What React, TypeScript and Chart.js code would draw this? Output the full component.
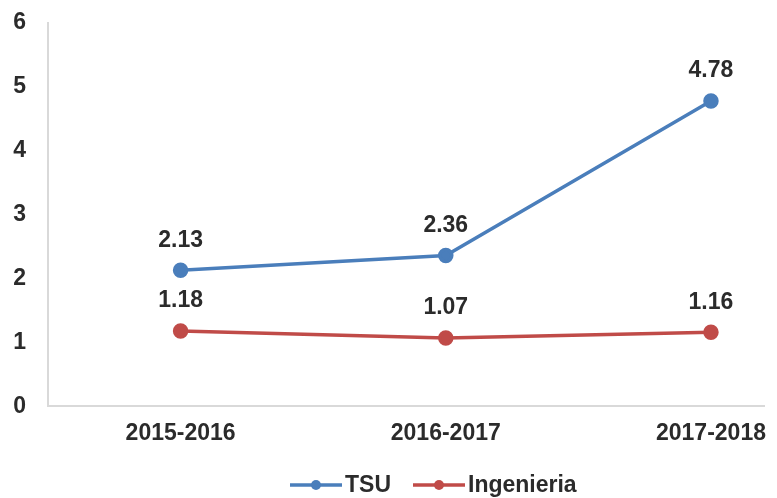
import React, { useEffect, useRef } from "react";
import { Chart, registerables } from "chart.js";

Chart.register(...registerables);

const categories = ["2015-2016", "2016-2017", "2017-2018"];
const tsuValues = [2.13, 2.36, 4.78];
const ingValues = [1.18, 1.07, 1.16];
const seriesNames = ["TSU", "Ingenieria"];
const yTicks = [0, 1, 2, 3, 4, 5, 6];

const BLUE = "#4a7ebb";
const RED = "#c04b48";
const TEXT = "#2b2b2b";
const FONT = "'Liberation Sans', Arial, sans-serif";
const X_MIN = -0.5;
const X_MAX = 2.2;

const labelPlugin = {
  id: "valueLabels",
  afterDatasetsDraw(chart: any) {
    const ctx = chart.ctx;
    ctx.save();
    ctx.font = `bold 23px ${FONT}`;
    ctx.fillStyle = TEXT;
    ctx.textAlign = "center";
    ctx.textBaseline = "middle";
    chart.data.datasets.forEach((ds: any, di: number) => {
      const meta = chart.getDatasetMeta(di);
      meta.data.forEach((pt: any, i: number) => {
        const v = ds.data[i].y;
        ctx.fillText(v.toFixed(2), pt.x, pt.y - 30);
      });
    });
    ctx.restore();
  },
};

const legendPlugin = {
  id: "customLegend",
  afterDraw(chart: any) {
    const ctx = chart.ctx;
    ctx.save();
    ctx.font = `bold 23px ${FONT}`;
    ctx.textBaseline = "middle";
    const y = 485;
    const colors = [BLUE, RED];
    const xs = [290, 413];
    seriesNames.forEach((name, i) => {
      const x = xs[i];
      ctx.strokeStyle = colors[i];
      ctx.lineWidth = 3.5;
      ctx.beginPath();
      ctx.moveTo(x, y);
      ctx.lineTo(x + 52, y);
      ctx.stroke();
      ctx.fillStyle = colors[i];
      ctx.beginPath();
      ctx.arc(x + 26, y, 5, 0, Math.PI * 2);
      ctx.fill();
      ctx.fillStyle = TEXT;
      ctx.textAlign = "left";
      ctx.fillText(name, x + 55, y + 1);
    });
    ctx.restore();
  },
};

export default function App() {
  const ref = useRef<HTMLCanvasElement | null>(null);
  useEffect(() => {
    if (!ref.current) return;
    const chart = new Chart(ref.current, {
      type: "line",
      data: {
        datasets: [
          {
            label: seriesNames[0],
            data: tsuValues.map((v, i) => ({ x: i, y: v })),
            borderColor: BLUE,
            backgroundColor: BLUE,
            borderWidth: 3.5,
            pointRadius: 6,
            pointBackgroundColor: BLUE,
            pointBorderColor: BLUE,
            tension: 0,
          },
          {
            label: seriesNames[1],
            data: ingValues.map((v, i) => ({ x: i, y: v })),
            borderColor: RED,
            backgroundColor: RED,
            borderWidth: 3.5,
            pointRadius: 6,
            pointBackgroundColor: RED,
            pointBorderColor: RED,
            tension: 0,
          },
        ],
      },
      options: {
        animation: false,
        responsive: false,
        layout: { padding: { left: 13, right: 10, top: 23, bottom: 38 } },
        plugins: { legend: { display: false }, tooltip: { enabled: false } },
        scales: {
          x: {
            type: "linear",
            min: X_MIN,
            max: X_MAX,
            afterBuildTicks(scale: any) {
              scale.ticks = [X_MIN, ...categories.map((_, i) => i), X_MAX].map((v) => ({ value: v }));
            },
            ticks: {
              callback: (v: any) => categories[v] ?? "",
              font: { family: FONT, size: 23, weight: "bold" },
              color: TEXT,
              padding: 13,
              maxRotation: 0,
              autoSkip: false,
            },
            grid: { display: false, drawTicks: false },
            border: { display: true, color: "#d9d9d9", width: 2 },
          },
          y: {
            min: 0,
            max: 6,
            afterBuildTicks(scale: any) {
              scale.ticks = yTicks.map((v) => ({ value: v }));
            },
            afterFit(scale: any) {
              scale.width = 35;
              scale.paddingTop = 0;
              scale.paddingBottom = 0;
            },
            ticks: {
              font: { family: FONT, size: 23, weight: "bold" },
              color: TEXT,
              padding: 22,
            },
            grid: { display: false, drawTicks: false },
            border: { display: true, color: "#d9d9d9", width: 2 },
          },
        },
      },
      plugins: [labelPlugin, legendPlugin],
    } as any);
    return () => chart.destroy();
  }, []);
  return (
    <div style={{ position: "fixed", left: 0, top: 0, width: 777, height: 498, background: "#fff" }}>
      <canvas ref={ref} width={777} height={498} style={{ width: 777, height: 498 }} />
    </div>
  );
}
